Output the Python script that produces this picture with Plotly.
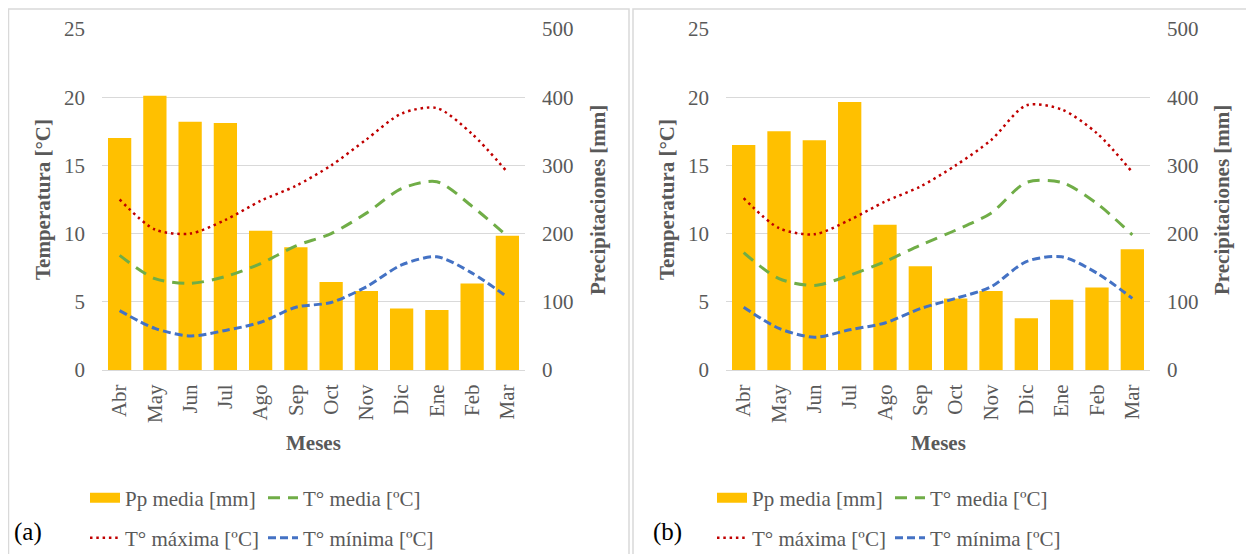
import plotly.graph_objects as go

meses = ["Abr", "May", "Jun", "Jul", "Ago", "Sep", "Oct", "Nov", "Dic", "Ene", "Feb", "Mar"]

# Panel (a)
pp_a = [340, 402, 364, 362, 204, 180, 129, 116, 90, 88, 127, 197]
tmed_a = [8.4, 6.7, 6.35, 6.85, 7.8, 9.1, 10.0, 11.5, 13.3, 13.8, 12.0, 9.8]
tmax_a = [12.5, 10.3, 10.0, 11.0, 12.4, 13.5, 15.0, 16.9, 18.8, 19.2, 17.3, 14.5]
tmin_a = [4.35, 3.05, 2.5, 2.9, 3.5, 4.6, 4.95, 6.1, 7.7, 8.3, 7.1, 5.35]

# Panel (b)
pp_b = [330, 350, 337, 393, 213, 152, 105, 116, 76, 103, 121, 177]
tmed_b = [8.6, 6.7, 6.2, 6.95, 7.95, 9.15, 10.25, 11.5, 13.75, 13.75, 12.2, 9.9]
tmax_b = [12.6, 10.4, 9.95, 11.0, 12.35, 13.45, 15.0, 16.85, 19.4, 19.1, 17.35, 14.5]
tmin_b = [4.6, 3.05, 2.4, 2.95, 3.45, 4.5, 5.25, 6.1, 7.95, 8.3, 7.1, 5.25]

temp_ticks = [0, 5, 10, 15, 20, 25]
pp_ticks = [0, 100, 200, 300, 400, 500]

# page body has an 8px margin, so the figure is 8px smaller and offset
OFF = 8
W, H = 1254 - OFF, 554 - OFF
FONT = "Liberation Serif"
GRAY = "#595959"
GRID = "#d9d9d9"
C_BAR = "#FFC000"
C_MED = "#70AD47"
C_MAX = "#C00000"
C_MIN = "#4472C4"

fig = go.Figure()


def px_x(v):
    return (v - OFF) / W


def px_y(v):
    return 1 - (v - OFF) / H


def add_panel(pp, tmed, tmax, tmin, xa, ybar, yline, leg1, leg2):
    fig.add_trace(go.Bar(x=meses, y=pp, marker_color=C_BAR, marker_line_width=0,
                         xaxis=xa, yaxis=ybar, showlegend=False, name="Pp media [mm]"))
    # legend-only swatch for the bars
    fig.add_trace(go.Scatter(x=[None], y=[None], mode="lines", name="Pp media [mm]",
                             line=dict(color=C_BAR, width=12), xaxis=xa, yaxis=yline,
                             legend=leg1))
    fig.add_trace(go.Scatter(x=meses, y=tmed, mode="lines", name="T° media [ºC]",
                             line=dict(color=C_MED, width=3, dash="12px,8px", shape="spline", smoothing=0.8),
                             xaxis=xa, yaxis=yline, legend=leg1))
    fig.add_trace(go.Scatter(x=meses, y=tmax, mode="lines", name="T° máxima [ºC]",
                             line=dict(color=C_MAX, width=2.5, dash="2.5px,3.8px", shape="spline", smoothing=0.8),
                             xaxis=xa, yaxis=yline, legend=leg2))
    fig.add_trace(go.Scatter(x=meses, y=tmin, mode="lines", name="T° mínima [ºC]",
                             line=dict(color=C_MIN, width=3, dash="8px,4px", shape="spline", smoothing=0.8),
                             xaxis=xa, yaxis=yline, legend=leg2))


add_panel(pp_a, tmed_a, tmax_a, tmin_a, "x", "y", "y2", "legend", "legend2")
add_panel(pp_b, tmed_b, tmax_b, tmin_b, "x2", "y3", "y4", "legend3", "legend4")

ydom = [px_y(370), px_y(29)]
tickfont = dict(family=FONT, size=21, color=GRAY)

xcommon = dict(type="category", showgrid=False, showline=True, linecolor=GRID, linewidth=1,
               tickangle=-90, tickfont=tickfont, ticks="", ticklabelstandoff=5,
               range=[-0.5, 11.5], fixedrange=True, automargin=False)
ybar_common = dict(range=[0, 500], tickvals=pp_ticks, side="right", showgrid=True, gridcolor=GRID,
                   gridwidth=1, zeroline=False, tickfont=tickfont, ticklabelstandoff=16, domain=ydom,
                   automargin=False)
yline_common = dict(range=[0, 25], tickvals=temp_ticks, side="left", showgrid=False, zeroline=False,
                    tickfont=tickfont, ticklabelstandoff=16, automargin=False)

fig.update_layout(
    width=W, height=H,
    margin=dict(l=0, r=0, t=0, b=0, pad=0, autoexpand=False),
    paper_bgcolor="white", plot_bgcolor="white",
    bargap=0.34,
    font=dict(family=FONT, color=GRAY, size=21),
    xaxis=dict(domain=[px_x(102), px_x(525)], anchor="y", **xcommon),
    xaxis2=dict(domain=[px_x(726), px_x(1150)], anchor="y3", **xcommon),
    yaxis=dict(anchor="x", **ybar_common),
    yaxis2=dict(anchor="x", overlaying="y", **yline_common),
    yaxis3=dict(anchor="x2", **ybar_common),
    yaxis4=dict(anchor="x2", overlaying="y3", **yline_common),
)

legend_common = dict(orientation="h", entrywidth=133, entrywidthmode="pixels",
                     bgcolor="rgba(0,0,0,0)", font=dict(family=FONT, size=21, color=GRAY),
                     xanchor="left", yanchor="middle", itemclick=False, itemdoubleclick=False)
fig.update_layout(
    legend=dict(x=px_x(85), y=px_y(498), **legend_common),
    legend2=dict(x=px_x(85), y=px_y(538), **legend_common),
    legend3=dict(x=px_x(712), y=px_y(498), **legend_common),
    legend4=dict(x=px_x(712), y=px_y(538), **legend_common),
)

# panel borders
for x0, x1 in [(8.5, 629), (633, 1252)]:
    fig.add_shape(type="rect", xref="paper", yref="paper", x0=px_x(x0), x1=px_x(x1),
                  y0=-0.05, y1=px_y(9), line=dict(color=GRID, width=1.5), fillcolor="rgba(0,0,0,0)",
                  layer="below")

# axis titles and labels
title_font = dict(family=FONT, size=21, color=GRAY)
anns = [
    dict(text="<b>Temperatura [°C]</b>", x=px_x(43), y=px_y(200), textangle=-90),
    dict(text="<b>Precipitaciones [mm]</b>", x=px_x(598), y=px_y(200), textangle=-90),
    dict(text="<b>Meses</b>", x=px_x(313), y=px_y(443), textangle=0),
    dict(text="<b>Temperatura [°C]</b>", x=px_x(667), y=px_y(200), textangle=-90),
    dict(text="<b>Precipitaciones [mm]</b>", x=px_x(1222), y=px_y(200), textangle=-90),
    dict(text="<b>Meses</b>", x=px_x(938), y=px_y(443), textangle=0),
]
for a in anns:
    fig.add_annotation(xref="paper", yref="paper", showarrow=False, font=title_font,
                       xanchor="center", yanchor="middle", **a)

for lab, xp in [("(a)", 28), ("(b)", 668)]:
    fig.add_annotation(text=lab, xref="paper", yref="paper", x=px_x(xp), y=px_y(532),
                       showarrow=False, font=dict(family=FONT, size=25, color="black"),
                       xanchor="center", yanchor="middle")

fig.write_html("out.html")
